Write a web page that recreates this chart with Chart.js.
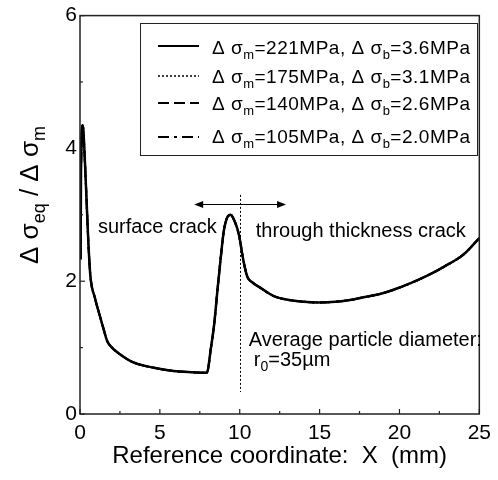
<!DOCTYPE html>
<html>
<head>
<meta charset="utf-8">
<script src="https://cdn.jsdelivr.net/npm/chart.js@4.4.1/dist/chart.umd.min.js"></script>
<style>
  body { margin: 0; background: #fff; }
  #wrap { width: 498px; height: 480px; }
</style>
</head>
<body>
<div id="wrap"><canvas id="grafico" width="498" height="480"></canvas></div>
<script>
// Distribución de Δσeq/Δσm a lo largo de la coordenada X
const coordX = [0.04, 0.06, 0.17, 0.31, 0.52, 0.65, 0.93, 1.24, 1.5, 1.7, 2.0, 2.5, 3.3, 4.55, 5.5, 6.2, 7.0, 7.94,
  8.2, 8.4, 8.6, 8.81, 9.0, 9.2, 9.43, 9.65, 9.95, 10.2, 10.47, 10.8, 11.3, 12.1, 13.0, 14.0, 14.9,
  16.0, 17.0, 18.0, 18.66, 19.5, 20.7, 21.8, 22.8, 24.0, 25.0];
const ratioTension = [2.33, 3.6, 4.35, 3.79, 2.6, 2.08, 1.75, 1.48, 1.26, 1.1, 1.0, 0.9, 0.78, 0.70, 0.66, 0.64, 0.63, 0.62,
  1.0, 1.35, 1.85, 2.35, 2.75, 2.95, 3.0, 2.92, 2.7, 2.35, 2.07, 1.98, 1.9, 1.78, 1.72, 1.69, 1.68,
  1.69, 1.72, 1.77, 1.8, 1.86, 1.97, 2.09, 2.22, 2.4, 2.65];

// las cuatro condiciones de carga dan la misma curva normalizada
const cargasMembrana = ['221', '175', '140', '105'];
const cargasFlexion = ['3.6', '3.1', '2.6', '2.0'];
const estilosLinea = [[], [2, 2], [11, 5], [11, 5, 3, 5]];

const xTicks = [0, 5, 10, 15, 20, 25];
const yTicks = [0, 2, 4, 6];

// anotaciones (en coordenadas de datos)
const limiteX = 10, limiteY = [0.33, 3.3];
const flechaX = [7.15, 12.9], flechaY = 3.17;

const FONT = '"Liberation Sans", Arial, sans-serif';

// texto con subíndices: partes [texto, esSub]
function anchoRico(ctx, partes, size) {
  let w = 0;
  partes.forEach(([t, sub]) => {
    ctx.font = (sub ? Math.round(size * 0.7) : size) + 'px ' + FONT;
    w += ctx.measureText(t).width;
  });
  return w;
}
function textoRico(ctx, partes, x, y, size) {
  ctx.textBaseline = 'alphabetic';
  ctx.textAlign = 'left';
  partes.forEach(([t, sub]) => {
    ctx.font = (sub ? Math.round(size * 0.7) : size) + 'px ' + FONT;
    ctx.fillText(t, x, sub ? y + size * 0.25 : y);
    x += ctx.measureText(t).width;
  });
  return x;
}

const decoracion = {
  id: 'decoracion',
  afterDraw(chart) {
    const {ctx, chartArea: a, scales: {x, y}} = chart;
    ctx.save();
    ctx.fillStyle = '#000';

    // marco
    ctx.strokeStyle = '#222';
    ctx.lineWidth = 1.5;
    ctx.strokeRect(a.left, a.top, a.right - a.left, a.bottom - a.top);

    // marcas hacia dentro
    ctx.lineWidth = 1.2;
    for (let v = 0; v <= 25; v += 2.5) {
      const px = x.getPixelForValue(v);
      const len = v % 5 === 0 ? 5 : 3;
      ctx.beginPath(); ctx.moveTo(px, a.bottom); ctx.lineTo(px, a.bottom - len); ctx.stroke();
    }
    for (let v = 0; v <= 6; v += 1) {
      const py = y.getPixelForValue(v);
      const len = v % 2 === 0 ? 5 : 3;
      ctx.beginPath(); ctx.moveTo(a.left, py); ctx.lineTo(a.left + len, py); ctx.stroke();
    }

    // línea punteada en X = 10
    ctx.strokeStyle = '#000';
    ctx.lineWidth = 1;
    ctx.setLineDash([2, 2]);
    const lx = Math.round(x.getPixelForValue(limiteX)) + 0.5;
    ctx.beginPath();
    ctx.moveTo(lx, y.getPixelForValue(limiteY[1]));
    ctx.lineTo(lx, y.getPixelForValue(limiteY[0]));
    ctx.stroke();
    ctx.setLineDash([]);

    // flecha doble
    const ax0 = x.getPixelForValue(flechaX[0]), ax1 = x.getPixelForValue(flechaX[1]);
    const ay = Math.round(y.getPixelForValue(flechaY)) + 0.5;
    ctx.lineWidth = 1.2;
    ctx.beginPath(); ctx.moveTo(ax0 + 4, ay); ctx.lineTo(ax1 - 4, ay); ctx.stroke();
    [[ax0, 1], [ax1, -1]].forEach(([px, d]) => {
      ctx.beginPath();
      ctx.moveTo(px, ay);
      ctx.lineTo(px + d * 9, ay - 3.5);
      ctx.lineTo(px + d * 9, ay + 3.5);
      ctx.closePath();
      ctx.fill();
    });

    // textos
    ctx.textBaseline = 'alphabetic';
    ctx.textAlign = 'left';
    ctx.font = '20px ' + FONT;
    ctx.fillText('surface crack', x.getPixelForValue(1.12), y.getPixelForValue(2.73));
    ctx.fillText('through thickness crack', x.getPixelForValue(11.0), y.getPixelForValue(2.66));
    ctx.fillText('Average particle diameter:', x.getPixelForValue(10.57), y.getPixelForValue(1.03));
    textoRico(ctx, [['r', false], ['0', true], ['=35\u00b5m', false]],
      x.getPixelForValue(10.88), y.getPixelForValue(0.73), 20);

    // leyenda
    ctx.strokeStyle = '#222';
    ctx.lineWidth = 1;
    ctx.strokeRect(140.5, 23.5, 337, 132);
    const filasLinea = [46, 76, 103, 137];
    const filasTexto = [54, 83, 110, 143];
    cargasMembrana.forEach((m, i) => {
      ctx.strokeStyle = '#000';
      ctx.lineWidth = i === 1 ? 1.5 : 2;
      ctx.setLineDash(estilosLinea[i]);
      ctx.beginPath(); ctx.moveTo(158, filasLinea[i]); ctx.lineTo(199, filasLinea[i]); ctx.stroke();
      ctx.setLineDash([]);
      ctx.letterSpacing = '0.5px';
      textoRico(ctx, [['\u0394 \u03c3', false], ['m', true], ['=' + m + 'MPa, \u0394 \u03c3', false],
        ['b', true], ['=' + cargasFlexion[i] + 'MPa', false]], 212, filasTexto[i], 19);
      ctx.letterSpacing = '0px';
    });

    // título eje Y
    const tituloY = [['\u0394 \u03c3', false], ['eq', true], [' / \u0394 \u03c3', false], ['m', true]];
    const w = anchoRico(ctx, tituloY, 26);
    ctx.translate(38, 195);
    ctx.rotate(-Math.PI / 2);
    textoRico(ctx, tituloY, -w / 2, 0, 26);
    ctx.restore();
  }
};

const datasets = cargasMembrana.map((m, i) => ({
  label: '\u0394\u03c3m=' + m + 'MPa, \u0394\u03c3b=' + cargasFlexion[i] + 'MPa',
  data: coordX.map((v, k) => ({x: v, y: ratioTension[k]})),
  showLine: true,
  borderColor: '#000',
  borderWidth: i === 0 ? 2.5 : 2,
  borderDash: estilosLinea[i],
  pointRadius: 0,
  cubicInterpolationMode: 'monotone',
  fill: false
}));

new Chart(document.getElementById('grafico'), {
  type: 'scatter',
  data: { datasets },
  options: {
    responsive: false,
    animation: false,
    layout: { padding: { top: 12, right: 16, left: 0, bottom: 0 } },
    plugins: { legend: { display: false }, tooltip: { enabled: false } },
    scales: {
      x: {
        type: 'linear', min: 0, max: 25,
        afterFit: (s) => { s.height = 66; },
        afterBuildTicks: (s) => { s.ticks = xTicks.map(v => ({value: v})); },
        grid: { display: false, drawTicks: false },
        border: { display: false },
        ticks: { color: '#000', font: { size: 21, family: FONT }, padding: 7, maxRotation: 0, autoSkip: false },
        title: {
          display: true, text: 'Reference coordinate:  X  (mm)', color: '#000',
          font: { size: 24, family: FONT }, padding: { top: 0, bottom: 9 }
        }
      },
      y: {
        min: 0, max: 6,
        afterFit: (s) => { s.width = 80; },
        afterBuildTicks: (s) => { s.ticks = yTicks.map(v => ({value: v})); },
        grid: { display: false, drawTicks: false },
        border: { display: false },
        ticks: { color: '#000', font: { size: 21, family: FONT }, padding: 3 }
      }
    }
  },
  plugins: [decoracion]
});
</script>
</body>
</html>
